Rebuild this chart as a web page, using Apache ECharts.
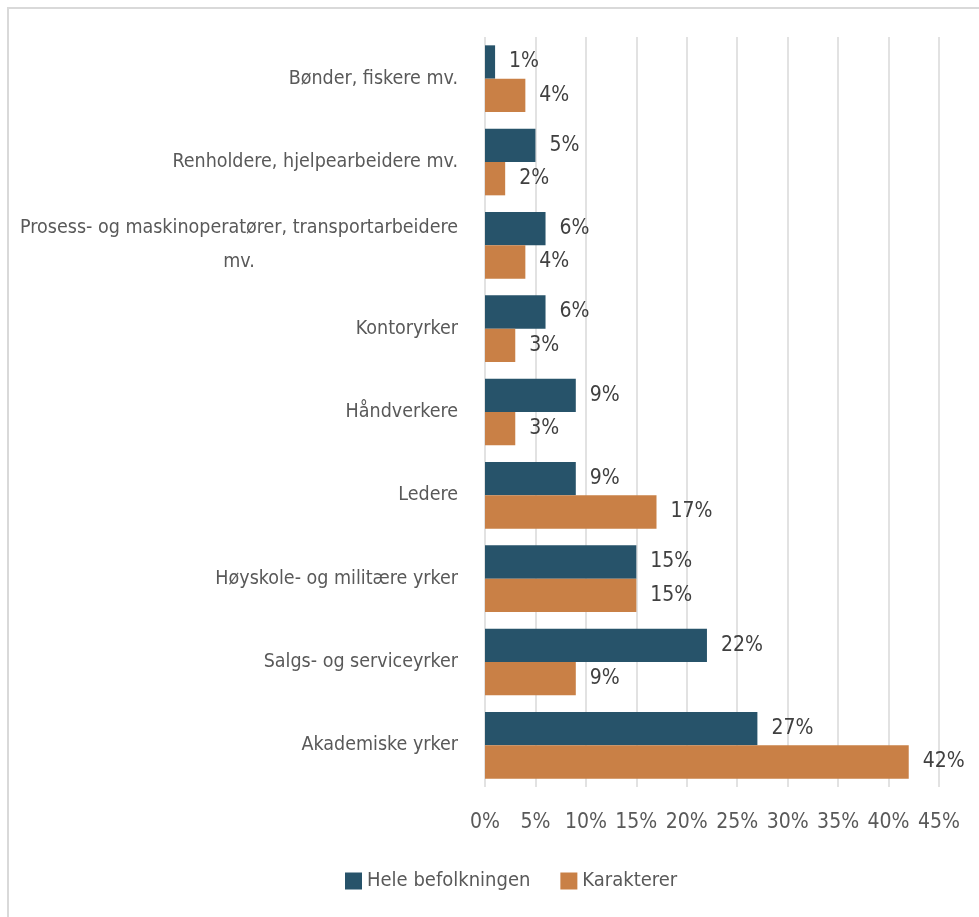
<!DOCTYPE html>
<html>
<head>
<meta charset="utf-8">
<script src="https://cdn.jsdelivr.net/npm/echarts@6/dist/echarts.min.js"></script>
<style>
  html, body { margin: 0; padding: 0; background: #fff; }
  #chart { width: 979px; height: 917px; }
</style>
</head>
<body>
<div id="chart"></div>
<script>
// Occupational groups, top to bottom
const categories = [
  'Bønder, fiskere mv.',
  'Renholdere, hjelpearbeidere mv.',
  'Prosess- og maskinoperatører, transportarbeidere\nmv.',
  'Kontoryrker',
  'Håndverkere',
  'Ledere',
  'Høyskole- og militære yrker',
  'Salgs- og serviceyrker',
  'Akademiske yrker'
];
const seriesNames = ['Hele befolkningen', 'Karakterer'];
// Share (%) of each group
const heleBefolkningen = [1, 5, 6, 6, 9, 9, 15, 22, 27];
const karakterer = [4, 2, 4, 3, 3, 17, 15, 9, 42];

const FONT = '"DejaVu Sans Condensed", "DejaVu Sans", sans-serif';
const chart = echarts.init(document.getElementById('chart'));

function labelOf() {
  return {
    show: true,
    position: 'right',
    distance: 14,
    formatter: p => p.value + '%',
    color: '#404040',
    fontFamily: FONT,
    fontSize: 21
  };
}

chart.setOption({
  animation: false,
  backgroundColor: '#fff',
  graphic: [{
    type: 'polyline',
    shape: { points: [[8, 917], [8, 8], [979, 8]] },
    style: { fill: 'none', stroke: '#d9d9d9', lineWidth: 2 },
    silent: true
  }],
  grid: { left: 485, right: 40, top: 37, bottom: 130, outerBoundsMode: 'none', containLabel: false },
  legend: {
    bottom: 21,
    left: 340,
    icon: 'rect',
    itemWidth: 17,
    itemHeight: 17,
    itemGap: 30,
    textStyle: { color: '#595959', fontFamily: FONT, fontSize: 20 },
    data: seriesNames
  },
  xAxis: {
    type: 'value',
    min: 0,
    max: 45,
    interval: 5,
    axisLine: { show: false },
    axisTick: { show: false },
    splitLine: { show: true, lineStyle: { color: '#d9d9d9', width: 1.5 } },
    axisLabel: {
      formatter: '{value}%',
      color: '#595959',
      fontFamily: FONT,
      fontSize: 21,
      margin: 25
    }
  },
  yAxis: {
    type: 'category',
    inverse: true,
    data: categories,
    axisLine: { show: false },
    axisTick: { show: false },
    axisLabel: {
      color: '#595959',
      fontFamily: FONT,
      fontSize: 19.5,
      margin: 27,
      lineHeight: 34,
      formatter: v => {
        const parts = v.split('\n');
        if (parts.length === 1) return v;
        return parts[0] + '\n{c|' + parts[1] + '}';
      },
      rich: {
        c: { align: 'center', color: '#595959', fontFamily: FONT, fontSize: 19.5, lineHeight: 34 }
      }
    }
  },
  series: [
    {
      name: seriesNames[0],
      type: 'bar',
      data: heleBefolkningen,
      barGap: '0%',
      barCategoryGap: '20%',
      itemStyle: { color: '#27536a' },
      label: labelOf()
    },
    {
      name: seriesNames[1],
      type: 'bar',
      data: karakterer,
      barGap: '0%',
      barCategoryGap: '20%',
      itemStyle: { color: '#c98046' },
      label: labelOf()
    }
  ]
});
</script>
</body>
</html>
